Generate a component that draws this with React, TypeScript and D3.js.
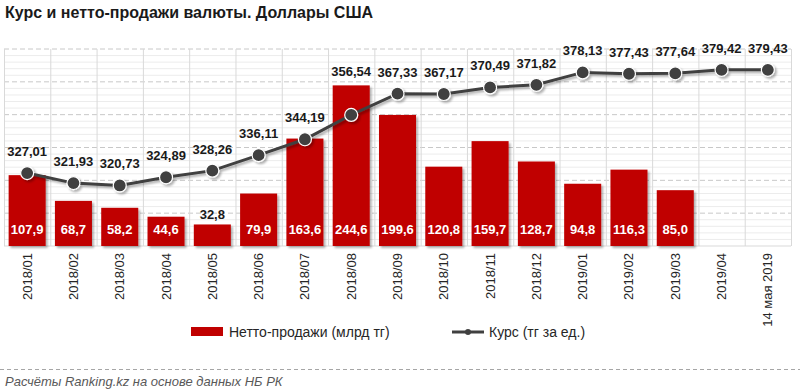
import React, { useEffect, useRef } from "react";
import * as d3 from "d3";

const months = [
  "2018/01", "2018/02", "2018/03", "2018/04", "2018/05", "2018/06",
  "2018/07", "2018/08", "2018/09", "2018/10", "2018/11", "2018/12",
  "2019/01", "2019/02", "2019/03", "2019/04", "14 мая 2019",
];
const netSales = [
  107.9, 68.7, 58.2, 44.6, 32.8, 79.9, 163.6, 244.6, 199.6, 120.8, 159.7,
  128.7, 94.8, 116.3, 85.0, null, null,
];
const rate = [
  327.01, 321.93, 320.73, 324.89, 328.26, 336.11, 344.19, 356.54, 367.33,
  367.17, 370.49, 371.82, 378.13, 377.43, 377.64, 379.42, 379.43,
];

const fmt = (v: number, d: number) => v.toFixed(d).replace(".", ",");
const FONT = "'Liberation Sans', Arial, sans-serif";

const App = () => {
  const ref = useRef<SVGSVGElement | null>(null);

  useEffect(() => {
    const W = 800;
    const H = 392;
    const left = 4, right = 791, top = 49, bottom = 246;

    const svg = d3.select(ref.current);
    svg.selectAll("*").remove();

    const defs = svg.append("defs");
    const sh = defs.append("filter").attr("id", "shadow")
      .attr("x", "-20%").attr("y", "-20%").attr("width", "150%").attr("height", "150%");
    sh.append("feDropShadow").attr("dx", 2).attr("dy", 2)
      .attr("stdDeviation", 1.2).attr("flood-color", "#000").attr("flood-opacity", 0.3);

    // title
    svg.append("text")
      .attr("x", 5).attr("y", 18)
      .attr("font-family", FONT).attr("font-size", 16).attr("font-weight", "bold")
      .attr("fill", "#1a1a1a")
      .text("Курс и нетто-продажи валюты. Доллары США");

    const x = d3.scaleBand().domain(months).range([left, right]).paddingInner(0.2).paddingOuter(0.1);
    const step = x.step();
    const yBar = d3.scaleLinear().domain([0, 300]).range([bottom, top]);
    const yLine = d3.scaleLinear().domain([290, 390]).range([bottom, top]);

    // minor gridlines
    const g = svg.append("g");
    g.selectAll(".minor")
      .data(d3.range(0, 301, 10).filter((v) => v % 50 !== 0))
      .enter().append("line")
      .attr("x1", left).attr("x2", right)
      .attr("y1", (d) => yBar(d)).attr("y2", (d) => yBar(d))
      .attr("stroke", "#ececec").attr("stroke-width", 1);
    g.selectAll(".major")
      .data(d3.range(50, 301, 50))
      .enter().append("line")
      .attr("x1", left).attr("x2", right)
      .attr("y1", (d) => yBar(d)).attr("y2", (d) => yBar(d))
      .attr("stroke", "#c8c8c8").attr("stroke-width", 1)
      .attr("stroke-dasharray", "5,3");

    // vertical category separators
    g.selectAll(".vline")
      .data(d3.range(0, months.length + 1))
      .enter().append("line")
      .attr("x1", (i) => left + i * step + 0.5).attr("x2", (i) => left + i * step + 0.5)
      .attr("y1", top).attr("y2", bottom)
      .attr("stroke", "#d9d9d9");

    g.append("line")
      .attr("x1", left).attr("x2", right)
      .attr("y1", bottom).attr("y2", bottom)
      .attr("stroke", "#d9d9d9");

    // bars
    const barData = months
      .map((m, i) => ({ m, v: netSales[i] }))
      .filter((d) => d.v != null) as { m: string; v: number }[];

    svg.append("g").attr("filter", "url(#shadow)")
      .selectAll("rect")
      .data(barData)
      .enter().append("rect")
      .attr("x", (d) => x(d.m)!)
      .attr("width", x.bandwidth())
      .attr("y", (d) => yBar(d.v))
      .attr("height", (d) => bottom - yBar(d.v))
      .attr("fill", "#c00000");

    svg.append("g")
      .selectAll("text")
      .data(barData)
      .enter().append("text")
      .attr("x", (d) => x(d.m)! + x.bandwidth() / 2)
      .attr("y", (d) => (bottom - yBar(d.v) < 25 ? yBar(d.v) - 5 : bottom - 12))
      .attr("text-anchor", "middle")
      .attr("font-family", FONT).attr("font-size", 13).attr("font-weight", "bold")
      .attr("fill", (d) => (bottom - yBar(d.v) < 25 ? "#1a1a1a" : "#fff"))
      .text((d) => fmt(d.v, 1));

    // line
    const cx = (i: number) => x(months[i])! + x.bandwidth() / 2;
    const line = d3.line<number>().x((_, i) => cx(i)).y((d) => yLine(d));

    const lg = svg.append("g").attr("filter", "url(#shadow)");
    lg.append("path")
      .datum(rate)
      .attr("d", line)
      .attr("fill", "none")
      .attr("stroke", "#404040")
      .attr("stroke-width", 3);
    lg.selectAll("circle")
      .data(rate)
      .enter().append("circle")
      .attr("cx", (_, i) => cx(i))
      .attr("cy", (d) => yLine(d))
      .attr("r", 6.5)
      .attr("fill", "#404040")
      .attr("stroke", "#fff")
      .attr("stroke-width", 1.2);

    svg.append("g")
      .selectAll("text")
      .data(rate)
      .enter().append("text")
      .attr("x", (_, i) => cx(i))
      .attr("y", (d, i) => {
        const above = yLine(d) - 22;
        const v = netSales[i];
        const limit = v == null ? above : yBar(v) - 14;
        return Math.min(above, limit) + 5;
      })
      .attr("text-anchor", "middle")
      .attr("font-family", FONT).attr("font-size", 13).attr("font-weight", "bold")
      .attr("fill", "#1a1a1a")
      .text((d) => fmt(d, 2));

    // x axis labels
    svg.append("g")
      .selectAll("text")
      .data(months)
      .enter().append("text")
      .attr("transform", (m) => `translate(${x(m)! + x.bandwidth() / 2 + 4.5},${bottom + 7}) rotate(-90)`)
      .attr("text-anchor", "end")
      .attr("font-family", FONT).attr("font-size", 13)
      .attr("fill", "#262626")
      .text((m) => m);

    // legend
    const leg = svg.append("g").attr("font-family", FONT).attr("font-size", 14).attr("fill", "#262626");
    leg.append("rect").attr("x", 191).attr("y", 327).attr("width", 32).attr("height", 9).attr("fill", "#c00000");
    leg.append("text").attr("x", 229).attr("y", 337).text("Нетто-продажи (млрд тг)");
    leg.append("line").attr("x1", 452).attr("x2", 484).attr("y1", 332).attr("y2", 332)
      .attr("stroke", "#404040").attr("stroke-width", 3);
    leg.append("circle").attr("cx", 468).attr("cy", 332).attr("r", 3).attr("fill", "#404040");
    leg.append("text").attr("x", 489).attr("y", 337).text("Курс (тг за ед.)");

    // footer
    svg.append("line")
      .attr("x1", 0).attr("x2", W).attr("y1", 369.5).attr("y2", 369.5)
      .attr("stroke", "#a6a6a6").attr("stroke-dasharray", "4,3");
    svg.append("text")
      .attr("x", 5).attr("y", H - 6)
      .attr("font-family", FONT).attr("font-size", 13).attr("font-style", "italic")
      .attr("fill", "#595959")
      .text("Расчёты Ranking.kz на основе данных НБ РК");
  }, []);

  return (
    <svg
      ref={ref}
      width={800}
      height={392}
      style={{ position: "absolute", left: 0, top: 0, background: "#fff" }}
    />
  );
};

export default App;
